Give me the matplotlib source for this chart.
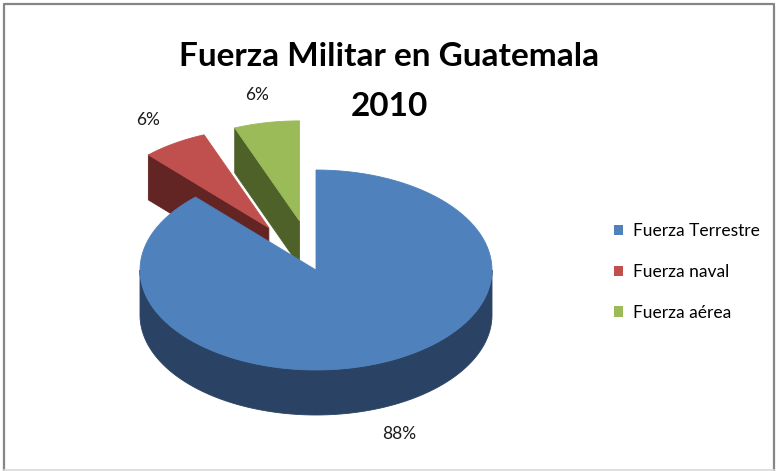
import numpy as np
import matplotlib.pyplot as plt
from matplotlib.patches import Polygon, Patch

# dados do gráfico
titulo = ["Fuerza Militar en Guatemala", "2010"]
categorias = ["Fuerza Terrestre", "Fuerza naval", "Fuerza aérea"]
valores = [88, 6, 6]
etiquetas = ["88%", "6%", "6%"]
explosao = [0.0, 0.5, 0.5]
cor_topo = ["#4F81BD", "#C0504D", "#9BBB59"]
cor_lado = ["#2A4263", "#632523", "#4E6129"]

fonte = ['Lato', 'DejaVu Sans']

# geometria da pizza 3D (em pixels)
cx, cy = 316, 270
rx, ry = 176, 100
prof = 45


def ponto(th, x0, y0, r=1.0):
    # angulo medido no sentido horario a partir das 12 horas
    return x0 + rx*r*np.sin(th), y0 - ry*r*np.cos(th)


def arco(a, b, x0, y0, n=120):
    t = np.linspace(a, b, n)
    return np.column_stack(ponto(t, x0, y0))


fig = plt.figure(figsize=(7.76, 4.71), dpi=100)
ax = fig.add_axes([0, 0, 1, 1])
ax.set_xlim(0, 776)
ax.set_ylim(471, 0)
ax.axis('off')

total = float(sum(valores))
fatias = []
ini = 0.0
for i, v in enumerate(valores):
    th0 = ini
    th1 = ini + 2*np.pi*v/total
    ini = th1
    meio = (th0 + th1)/2
    sx = cx + explosao[i]*rx*np.sin(meio)
    sy = cy - explosao[i]*ry*np.cos(meio)
    fatias.append((sy, i, th0, th1, meio, sx))

# desenha do fundo para a frente
for sy, i, th0, th1, meio, sx in sorted(fatias):
    desce = np.array([0, prof])
    kw = dict(facecolor=cor_lado[i], edgecolor=cor_lado[i], lw=0.6)
    c = np.array([sx, sy])
    # face de corte inicial
    if np.sin(th0) < -1e-9:
        p = np.array(ponto(th0, sx, sy))
        ax.add_patch(Polygon([c, p, p + desce, c + desce], **kw))
    # face de corte final
    if np.sin(th1) > 1e-9:
        p = np.array(ponto(th1, sx, sy))
        ax.add_patch(Polygon([c, p, p + desce, c + desce], **kw))
    # parede externa (so a metade da frente aparece)
    a, b = max(th0, np.pi/2), min(th1, 3*np.pi/2)
    if b > a:
        topo = arco(a, b, sx, sy)
        ax.add_patch(Polygon(np.vstack([topo, (topo + desce)[::-1]]), **kw))
    # tampa
    tampa = np.vstack([c, arco(th0, th1, sx, sy)])
    ax.add_patch(Polygon(tampa, facecolor=cor_topo[i], edgecolor=cor_topo[i], lw=0.6))

    # rotulo de porcentagem
    lx, ly = ponto(meio, sx, sy, 1.28)
    if np.cos(meio) < 0:
        ly += prof
    ax.text(lx, ly, etiquetas[i], ha='center', va='center', fontsize=12.5,
            family=fonte, color='#1a1a1a')

# titulo em duas linhas
ax.text(389, 66, titulo[0], ha='center', va='baseline', fontsize=24,
        fontweight='bold', family=fonte)
ax.text(389, 116, titulo[1], ha='center', va='baseline', fontsize=24,
        fontweight='bold', family=fonte)

itens = [Patch(facecolor=cor_topo[i], edgecolor='none', label=categorias[i])
         for i in range(len(categorias))]
fig.legend(handles=itens, loc='center left', bbox_to_anchor=(614/776, 1 - 272/471),
           frameon=False, handlelength=0.52, handleheight=0.52, handletextpad=0.6,
           labelspacing=1.42, borderaxespad=0, borderpad=0,
           prop={'family': fonte, 'size': 12.5})

# moldura
ax.plot([3.5, 3.5, 773.5, 773.5], [470, 3.5, 3.5, 470], color='#868686', lw=1.6)
ax.plot([3.5, 773.5], [470, 470], color='#D9D9D9', lw=1.2)

fig.savefig('out.png', dpi=100)
